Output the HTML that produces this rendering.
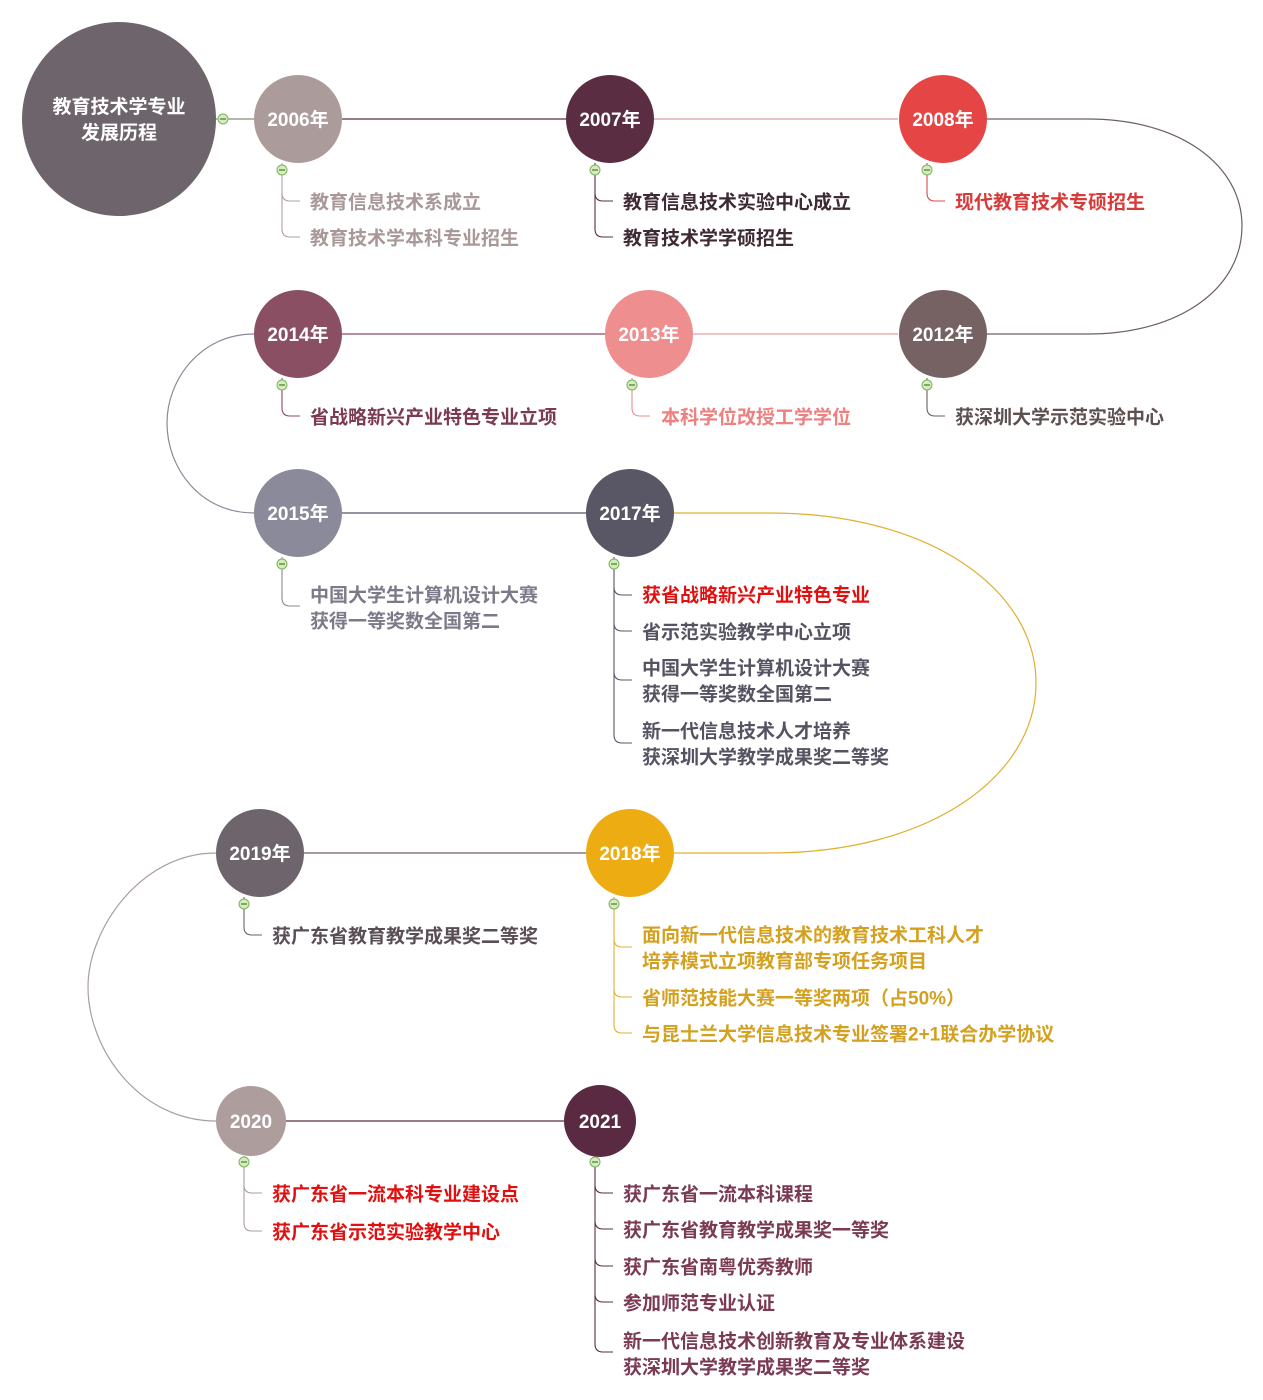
<!DOCTYPE html>
<html><head><meta charset="utf-8"><style>
html,body{margin:0;padding:0;background:#fff;}
svg{display:block;}
text{font-family:"Liberation Sans","Noto Sans CJK SC",sans-serif;font-weight:bold;}
.t{font-size:19px;dominant-baseline:central;transform:translateY(2px);}
.y{font-size:19px;fill:#fff;text-anchor:middle;dominant-baseline:central;transform:translateY(1.5px);}
</style></head><body>
<svg width="1263" height="1400" viewBox="0 0 1263 1400" xmlns="http://www.w3.org/2000/svg">
<defs>
<g id="m"><circle r="5" fill="#d4ecc0" stroke="#7cb35a" stroke-width="1"/><line x1="-3" y1="0" x2="3" y2="0" stroke="#4a7a30" stroke-width="1.2"/></g>
</defs>
<g fill="none" stroke-width="1.2">
<line x1="216" y1="119" x2="254" y2="119" stroke="#8a8a7a"/>
<line x1="342" y1="119" x2="566" y2="119" stroke="#5a2d42"/>
<line x1="654" y1="119" x2="898" y2="119" stroke="#d9a0a8"/>
<path d="M986,119 L1088,119 C1180,119 1242,165 1242,226 C1242,288 1180,334 1088,334 L986,334" stroke="#6e6060"/>
<line x1="693" y1="334" x2="898" y2="334" stroke="#e8a0a0"/>
<line x1="342" y1="334" x2="605" y2="334" stroke="#8b4a62"/>
<path d="M254,334 C200,334 167,380 167,423 C167,468 200,513 254,513" stroke="#8a8a98"/>
<line x1="342" y1="513" x2="586" y2="513" stroke="#585565"/>
<path d="M674,513 L770,513 C930,513 1036,590 1036,683 C1036,776 930,853 770,853 L674,853" stroke="#e0b030"/>
<line x1="304" y1="853" x2="586" y2="853" stroke="#6e6268"/>
<path d="M216,853 C140,853 88,930 88,987 C88,1050 140,1121 216,1121" stroke="#aa9e9e"/>
<line x1="286" y1="1121" x2="565" y2="1121" stroke="#5a2d42"/>
</g>
<use href="#m" x="223" y="119"/>
<circle cx="119" cy="119" r="97" fill="#6e646c"/>
<text class="y" x="119" y="106">教育技术学专业</text>
<text class="y" x="119" y="132">发展历程</text>

<g fill="none" stroke-width="1.1">
<g stroke="#b0a0a0"><path d="M282,163 V193 Q282,201 290,201 H300 M282,193 V229 Q282,237 290,237 H300"/></g>
<g stroke="#5a2d42"><path d="M595,163 V193 Q595,201 603,201 H613 M595,193 V229 Q595,237 603,237 H613"/></g>
<g stroke="#d84848"><path d="M927,163 V193 Q927,201 935,201 H945"/></g>
<g stroke="#8b4a62"><path d="M282,378 V408 Q282,416 290,416 H300"/></g>
<g stroke="#ee8e8e"><path d="M632,378 V408 Q632,416 640,416 H650"/></g>
<g stroke="#6e5e5e"><path d="M927,378 V408 Q927,416 935,416 H945"/></g>
<g stroke="#8a8898"><path d="M282,557 V598 Q282,606 290,606 H300"/></g>
<g stroke="#585565"><path d="M614,557 V587 Q614,595 622,595 H632 M614,587 V623 Q614,631 622,631 H632 M614,623 V672 Q614,680 622,680 H632 M614,672 V735 Q614,743 622,743 H632"/></g>
<g stroke="#6e6268"><path d="M244,897 V927 Q244,935 252,935 H262"/></g>
<g stroke="#e0b030"><path d="M614,897 V939 Q614,947 622,947 H632 M614,939 V989 Q614,997 622,997 H632 M614,989 V1025 Q614,1033 622,1033 H632"/></g>
<g stroke="#aa9e9e"><path d="M244,1156 V1185 Q244,1193 252,1193 H262 M244,1185 V1223 Q244,1231 252,1231 H262"/></g>
<g stroke="#5a2d42"><path d="M595,1156 V1185 Q595,1193 603,1193 H613 M595,1185 V1221 Q595,1229 603,1229 H613 M595,1221 V1258 Q595,1266 603,1266 H613 M595,1258 V1294 Q595,1302 603,1302 H613 M595,1294 V1344 Q595,1352 603,1352 H613"/></g>
</g>

<circle cx="298" cy="119" r="44" fill="#ac9b9b"/><text class="y" x="298" y="119">2006年</text>
<circle cx="610" cy="119" r="44" fill="#5a2d42"/><text class="y" x="610" y="119">2007年</text>
<circle cx="943" cy="119" r="44" fill="#e64545"/><text class="y" x="943" y="119">2008年</text>
<circle cx="298" cy="334" r="44" fill="#8b4f63"/><text class="y" x="298" y="334">2014年</text>
<circle cx="649" cy="334" r="44" fill="#ee8e8e"/><text class="y" x="649" y="334">2013年</text>
<circle cx="943" cy="334" r="44" fill="#766262"/><text class="y" x="943" y="334">2012年</text>
<circle cx="298" cy="513" r="44" fill="#8b8a9a"/><text class="y" x="298" y="513">2015年</text>
<circle cx="630" cy="513" r="44" fill="#595666"/><text class="y" x="630" y="513">2017年</text>
<circle cx="260" cy="853" r="44" fill="#6e646c"/><text class="y" x="260" y="853">2019年</text>
<circle cx="630" cy="853" r="44" fill="#ecac12"/><text class="y" x="630" y="853">2018年</text>
<circle cx="251" cy="1121" r="35" fill="#ad9d9d"/><text class="y" x="251" y="1121">2020</text>
<circle cx="600" cy="1121" r="36" fill="#5a2a42"/><text class="y" x="600" y="1121">2021</text>

<use href="#m" x="282" y="170"/><use href="#m" x="595" y="170"/><use href="#m" x="927" y="170"/>
<use href="#m" x="282" y="385"/><use href="#m" x="632" y="385"/><use href="#m" x="927" y="385"/>
<use href="#m" x="282" y="564"/><use href="#m" x="614" y="564"/>
<use href="#m" x="244" y="904"/><use href="#m" x="614" y="904"/>
<use href="#m" x="244" y="1162"/><use href="#m" x="595" y="1162"/>

<g>
<text class="t" x="310" y="201" fill="#a89898">教育信息技术系成立</text>
<text class="t" x="310" y="237" fill="#a89898">教育技术学本科专业招生</text>
<text class="t" x="623" y="201" fill="#3e2a34">教育信息技术实验中心成立</text>
<text class="t" x="623" y="237" fill="#3e2a34">教育技术学学硕招生</text>
<text class="t" x="955" y="201" fill="#d83a3a">现代教育技术专硕招生</text>
<text class="t" x="310" y="416" fill="#7a3a52">省战略新兴产业特色专业立项</text>
<text class="t" x="661" y="416" fill="#ee8080">本科学位改授工学学位</text>
<text class="t" x="955" y="416" fill="#5e5050">获深圳大学示范实验中心</text>
<text class="t" x="310" y="594" fill="#7c7a88">中国大学生计算机设计大赛</text>
<text class="t" x="310" y="620" fill="#7c7a88">获得一等奖数全国第二</text>
<text class="t" x="642" y="594" fill="#e01010">获省战略新兴产业特色专业</text>
<text class="t" x="642" y="631" fill="#555362">省示范实验教学中心立项</text>
<text class="t" x="642" y="667" fill="#555362">中国大学生计算机设计大赛</text>
<text class="t" x="642" y="693" fill="#555362">获得一等奖数全国第二</text>
<text class="t" x="642" y="730" fill="#555362">新一代信息技术人才培养</text>
<text class="t" x="642" y="756" fill="#555362">获深圳大学教学成果奖二等奖</text>
<text class="t" x="272" y="935" fill="#5a4e56">获广东省教育教学成果奖二等奖</text>
<text class="t" x="642" y="934" fill="#d4a020">面向新一代信息技术的教育技术工科人才</text>
<text class="t" x="642" y="960" fill="#d4a020">培养模式立项教育部专项任务项目</text>
<text class="t" x="642" y="997" fill="#d4a020">省师范技能大赛一等奖两项（占50%）</text>
<text class="t" x="642" y="1033" fill="#d4a020">与昆士兰大学信息技术专业签署2+1联合办学协议</text>
<text class="t" x="272" y="1193" fill="#e01010">获广东省一流本科专业建设点</text>
<text class="t" x="272" y="1231" fill="#e01010">获广东省示范实验教学中心</text>
<text class="t" x="623" y="1193" fill="#7a3a52">获广东省一流本科课程</text>
<text class="t" x="623" y="1229" fill="#7a3a52">获广东省教育教学成果奖一等奖</text>
<text class="t" x="623" y="1266" fill="#7a3a52">获广东省南粤优秀教师</text>
<text class="t" x="623" y="1302" fill="#7a3a52">参加师范专业认证</text>
<text class="t" x="623" y="1340" fill="#7a3a52">新一代信息技术创新教育及专业体系建设</text>
<text class="t" x="623" y="1366" fill="#7a3a52">获深圳大学教学成果奖二等奖</text>
</g>
</svg>
</body></html>
